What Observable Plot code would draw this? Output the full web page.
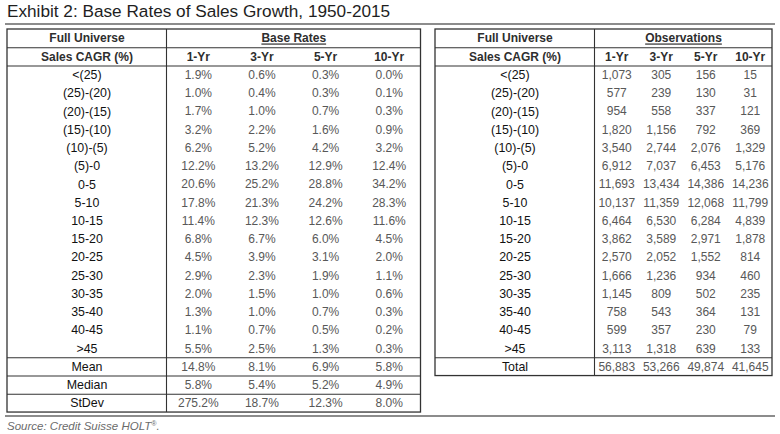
<!DOCTYPE html>
<html><head><meta charset="utf-8">
<script src="https://cdn.jsdelivr.net/npm/d3@7"></script>
<script src="https://cdn.jsdelivr.net/npm/@observablehq/plot@0.6"></script>
<style>
body{margin:0;background:#fff;font-family:"Liberation Sans",Arial,sans-serif;}
#title{font-size:17.2px;line-height:23px;height:23px;color:#1e1e1e;padding-left:7px;white-space:nowrap;}
.rule{margin:0 5px;height:2px;background:#8c8c8c;}
#source{font-size:11.5px;font-style:italic;color:#6b6b6b;padding-left:7px;line-height:18px;white-space:nowrap;}
#source .reg{font-size:7px;position:relative;top:-4px;}
#chart svg{display:block;}
</style></head><body>
<div id="title">Exhibit 2: Base Rates of Sales Growth, 1950-2015</div>
<div class="rule"></div>
<div id="chart"></div>
<div class="rule"></div>
<div id="source">Source: Credit Suisse HOLT<span class="reg">®</span>.</div>
<script>
// ---- data ----
const categories = ["<(25)","(25)-(20)","(20)-(15)","(15)-(10)","(10)-(5)","(5)-0","0-5","5-10","10-15","15-20","20-25","25-30","30-35","35-40","40-45",">45"];
const horizons = ["1-Yr","3-Yr","5-Yr","10-Yr"];
const headerLabels = ["Full Universe","Sales CAGR (%)"];
const groupTitles = ["Base Rates","Observations"];
const rate1Yr  = [1.9,1.0,1.7,3.2,6.2,12.2,20.6,17.8,11.4,6.8,4.5,2.9,2.0,1.3,1.1,5.5];
const rate3Yr  = [0.6,0.4,1.0,2.2,5.2,13.2,25.2,21.3,12.3,6.7,3.9,2.3,1.5,1.0,0.7,2.5];
const rate5Yr  = [0.3,0.3,0.7,1.6,4.2,12.9,28.8,24.2,12.6,6.0,3.1,1.9,1.0,0.7,0.5,1.3];
const rate10Yr = [0.0,0.1,0.3,0.9,3.2,12.4,34.2,28.3,11.6,4.5,2.0,1.1,0.6,0.3,0.2,0.3];
const summaryLabels = ["Mean","Median","StDev"];
const summary1Yr  = [14.8,5.8,275.2];
const summary3Yr  = [8.1,5.4,18.7];
const summary5Yr  = [6.9,5.2,12.3];
const summary10Yr = [5.8,4.9,8.0];
const obs1Yr  = [1073,577,954,1820,3540,6912,11693,10137,6464,3862,2570,1666,1145,758,599,3113];
const obs3Yr  = [305,239,558,1156,2744,7037,13434,11359,6530,3589,2052,1236,809,543,357,1318];
const obs5Yr  = [156,130,337,792,2076,6453,14386,12068,6284,2971,1552,934,502,364,230,639];
const obs10Yr = [15,31,121,369,1329,5176,14236,11799,4839,1878,814,460,235,131,79,133];
const totalLabel = "Total";
const totals = [56883,53266,49874,41645];

// ---- layout ----
const tables = [
  {x0: 7,   split: 166, x1: 420.5, nRows: 21, hRows: [1,2,18,19,20]},
  {x0: 435, split: 594, x1: 772,   nRows: 19, hRows: [1,2,18]}
];
const labelX = t => (t.x0 + t.split) / 2;
const colX = (t, i) => t.split + (t.x1 - t.split) * (i + 0.5) / horizons.length;

const pct = d3.format(".1f");
const cnt = d3.format(",");
const rateCols = [rate1Yr, rate3Yr, rate5Yr, rate10Yr];
const sumCols = [summary1Yr, summary3Yr, summary5Yr, summary10Yr];
const obsCols = [obs1Yr, obs3Yr, obs5Yr, obs10Yr];

const headerCells = [], groupCells = [], labelCells = [], valueCells = [];
tables.forEach((t, ti) => {
  headerLabels.forEach((h, r) => headerCells.push({x: labelX(t), row: r, text: h}));
  horizons.forEach((h, i) => headerCells.push({x: colX(t, i), row: 1, text: h}));
  groupCells.push({x: (t.split + t.x1) / 2, row: 0, text: groupTitles[ti]});
  categories.forEach((c, r) => labelCells.push({x: labelX(t), row: r + 2, text: c}));
});
summaryLabels.forEach((s, r) => labelCells.push({x: labelX(tables[0]), row: 18 + r, text: s}));
labelCells.push({x: labelX(tables[1]), row: 18, text: totalLabel});
rateCols.forEach((col, i) => col.forEach((v, r) => valueCells.push({x: colX(tables[0], i), row: r + 2, text: pct(v) + "%"})));
sumCols.forEach((col, i) => col.forEach((v, r) => valueCells.push({x: colX(tables[0], i), row: 18 + r, text: pct(v) + "%"})));
obsCols.forEach((col, i) => col.forEach((v, r) => valueCells.push({x: colX(tables[1], i), row: r + 2, text: cnt(v)})));
totals.forEach((v, i) => valueCells.push({x: colX(tables[1], i), row: 18, text: cnt(v)}));

const hRules = tables.flatMap(t => t.hRows.map(r => ({y: r, x1: t.x0, x2: t.x1})));
const vRules = tables.map(t => ({x: t.split, y1: 0, y2: t.nRows}));

const font = "Liberation Sans, Arial, sans-serif";
const ink = "#333";
const rowH = 18.24, tableTop = 4;

const svg = Plot.plot({
  width: 780, height: 390, margin: 0,
  style: {fontFamily: font, background: "white"},
  x: {domain: [0, 780], range: [0, 780], axis: null},
  y: {domain: [0, 21], range: [tableTop, tableTop + 21 * rowH], axis: null},
  marks: [
    Plot.rect(tables, {x1: "x0", x2: "x1", y1: 0, y2: "nRows", fill: "none", stroke: ink, strokeWidth: 1.3}),
    Plot.ruleY(hRules, {y: "y", x1: "x1", x2: "x2", stroke: ink, strokeWidth: 1.1}),
    Plot.ruleX(vRules, {x: "x", y1: "y1", y2: "y2", stroke: ink, strokeWidth: 1.1}),
    Plot.text(headerCells, {x: "x", y: d => d.row + 0.5, text: "text", fontSize: 12, fontWeight: "bold", fill: "#2e2e2e"}),
    Plot.text(groupCells, {x: "x", y: d => d.row + 0.5, text: "text", fontSize: 12, fontWeight: "bold", fill: "#2e2e2e", ariaLabel: () => "group-title"}),
    Plot.text(labelCells, {x: "x", y: d => d.row + 0.5, text: "text", fontSize: 12.4, fill: "#111"}),
    Plot.text(valueCells, {x: "x", y: d => d.row + 0.5, text: "text", fontSize: 12, fill: "#585858"})
  ]
});
svg.querySelectorAll('[aria-label="group-title"]').forEach(el => {
  const targets = el.tagName.toLowerCase() === "text" ? [el] : Array.from(el.querySelectorAll("text"));
  targets.forEach(t => { t.setAttribute("text-decoration", "underline"); t.style.textDecoration = "underline"; });
});
document.getElementById("chart").appendChild(svg);
</script>
</body></html>
